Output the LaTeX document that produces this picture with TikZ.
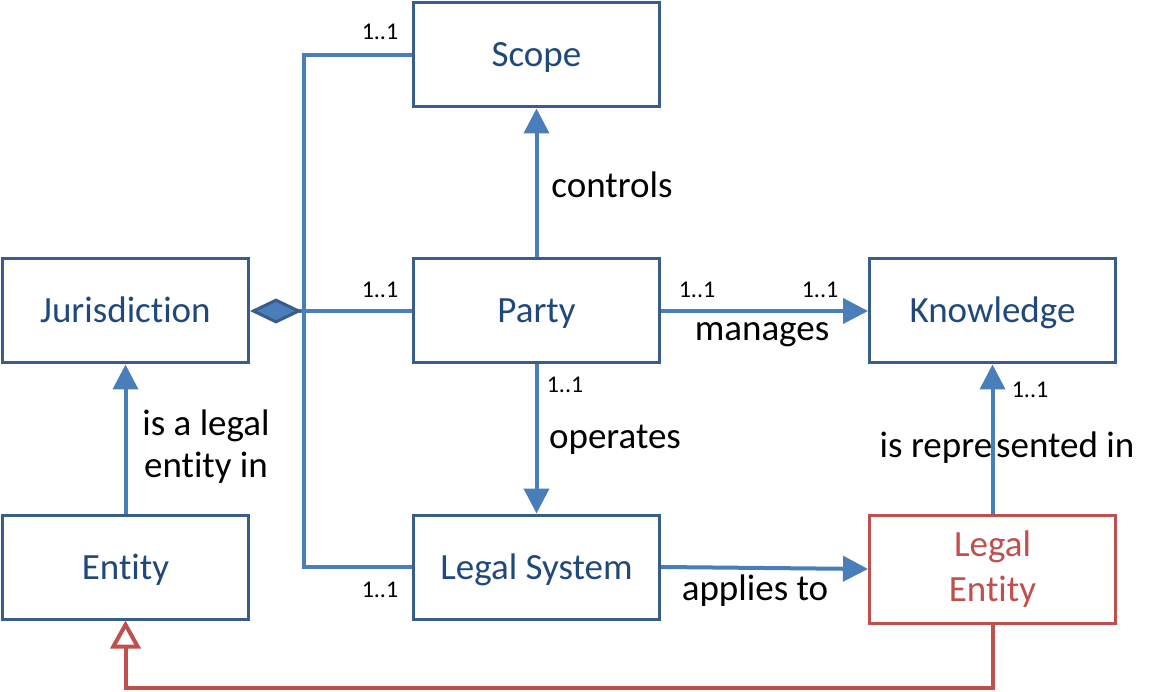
\documentclass[tikz,border=0pt]{standalone}
\usepackage{fontspec}
\setmainfont{Carlito}[Ligatures=NoCommon]
\usetikzlibrary{arrows.meta}
\definecolor{boxblue}{HTML}{385D8A}
\definecolor{txtblue}{HTML}{1F497D}
\definecolor{lineblue}{HTML}{4A7EBB}
\definecolor{redline}{HTML}{C0504D}
\begin{document}
\begin{tikzpicture}[x=1pt,y=-1pt,
  box/.style={draw=boxblue, line width=3pt, minimum width=246pt, minimum height=104pt, inner sep=0pt, text=txtblue, font=\fontsize{37}{45}\selectfont, align=center},
  onel/.style={box, text height=24pt, text depth=0pt},
  redbox/.style={box, draw=redline, text=redline, minimum height=108pt},
  conn/.style={draw=lineblue, line width=4pt},
  arr/.style={conn, -{Triangle[length=25pt,width=25pt]}},
  lbl/.style={font=\fontsize{37}{42}\selectfont, inner sep=0pt, align=center},
  mult/.style={font=\fontsize{24}{28}\selectfont, inner sep=0pt}]
\useasboundingbox (0,0) rectangle (1162,692);
\node[onel] (S) at (536.5,55) {Scope};
\node[onel] (P) at (536.5,311) {Party};
\node[onel] (LS) at (536.5,567) {Legal System};
\node[onel] (J) at (125.5,311) {Jurisdiction};
\node[onel] (E) at (125.5,567) {Entity};
\node[onel] (K) at (992.5,311) {Knowledge};
\node[redbox] (LE) at (992.5,569) {Legal\\Entity};
\coordinate (c1) at (304,55);
\coordinate (c2) at (304,567);
\coordinate (c3) at (992.5,688);
\coordinate (c4) at (125.5,688);
% connectors
\draw[conn] (S.west) -- (c1) -- (c2) -- (LS.west);
\draw[conn, -{Diamond[length=52pt,width=25pt,fill=lineblue,color=boxblue,line width=3pt]}] (P.west) -- (J.east);
\draw[arr] (P.north) -- (S.south);
\draw[arr] (P.south) -- (LS.north);
\draw[arr] (P.east) -- (K.west);
\draw[arr] (LS.east) -- (LE.west);
\draw[arr] (LE.north) -- (K.south);
\draw[arr] (E.north) -- (J.south);
\draw[draw=redline, line width=4pt, -{Triangle[open,length=28pt,width=30pt,line width=4pt]}] (LE.south) -- (c3) -- (c4) -- (E.south);
% labels
\node[lbl] (lc) at (612,185) {controls};
\node[lbl] (lo) at (615,440) {operates};
\node[lbl] (lm) at (762,335) {manages};
\node[lbl] (la) at (755,591) {applies to};
\node[lbl] (lr) at (1007,448) {is repre\hspace{4pt}sented in};
\node[lbl] (ll) at (206,447) {is a legal\\entity in};
\node[mult] (m1) at (380,32) {1..1};
\node[mult] (m2) at (380,290) {1..1};
\node[mult] (m3) at (380,590) {1..1};
\node[mult] (m4) at (565,385) {1..1};
\node[mult] (m5) at (697,290) {1..1};
\node[mult] (m6) at (820,290) {1..1};
\node[mult] (m7) at (1030,390) {1..1};
\end{tikzpicture}
\end{document}
